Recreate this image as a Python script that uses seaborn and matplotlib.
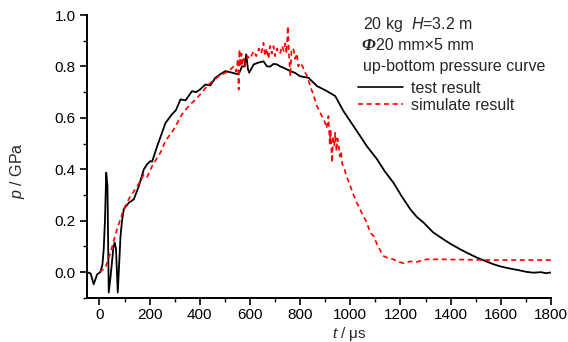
import matplotlib
matplotlib.use("Agg")
import matplotlib.pyplot as plt
import seaborn as sns
import pandas as pd
from matplotlib.ticker import MultipleLocator
from matplotlib.lines import Line2D

# ---- data ----
t_test = [-50, -35, -23, -9, 4, 12, 17, 22, 27, 32, 37, 44, 50, 56, 61, 66, 73, 78, 84, 90,
          97, 117, 137, 157, 177, 190, 203, 210, 230, 245, 263, 289, 305, 323, 343, 369, 385,
          402, 422, 442, 462, 482, 502, 528, 555, 568, 578, 585, 592, 597, 615, 634, 654, 668,
          681, 694, 708, 721, 734, 761, 780, 800, 834, 850, 867, 907, 940, 973, 1013, 1039,
          1066, 1106, 1139, 1172, 1205, 1239, 1265, 1292, 1330, 1371, 1400, 1438, 1470, 1504,
          1537, 1570, 1600, 1637, 1670, 1703, 1730, 1760, 1780, 1800]
p_test = [0, -0.005, -0.047, -0.008, 0, 0.03, 0.09, 0.2, 0.387, 0.335, -0.079, -0.02, 0.04,
          0.10, 0.115, 0.09, -0.079, 0.02, 0.14, 0.2, 0.245, 0.27, 0.283, 0.335, 0.40, 0.42,
          0.432, 0.43, 0.49, 0.53, 0.58, 0.614, 0.63, 0.672, 0.668, 0.704, 0.70, 0.711, 0.73,
          0.726, 0.756, 0.77, 0.782, 0.776, 0.769, 0.80, 0.80, 0.847, 0.79, 0.776, 0.808,
          0.815, 0.82, 0.80, 0.80, 0.81, 0.808, 0.80, 0.795, 0.782, 0.775, 0.762, 0.756, 0.74,
          0.724, 0.704, 0.685, 0.626, 0.568, 0.53, 0.49, 0.44, 0.39, 0.348, 0.295, 0.245,
          0.215, 0.193, 0.155, 0.128, 0.11, 0.089, 0.073, 0.057, 0.044, 0.031, 0.022, 0.014,
          0.008, 0.001, -0.002, 0.0, -0.004, -0.001]

t_sim = [0, 24, 44, 70, 97, 123, 143, 160, 177, 190, 210, 243, 263, 296, 329, 356, 396, 435,
         475, 515, 535, 545, 552, 555, 558, 562, 566, 570, 575, 580, 590, 600, 615, 625, 635,
         645, 654, 660, 667, 674, 680, 687, 694, 700, 708, 714, 721, 728, 735, 741, 746, 751,
         756, 761, 766, 774, 780, 787, 793, 800, 810, 820, 830, 840, 853, 867, 880, 893, 900,
         906, 913, 918, 922, 927, 932, 936, 940, 945, 949, 953, 958, 963, 968, 973, 986, 1000,
         1013, 1026, 1046, 1066, 1079, 1093, 1106, 1117, 1125, 1132, 1150, 1172, 1192, 1212,
         1240, 1265, 1285, 1305, 1340, 1371, 1400, 1438, 1500, 1570, 1650, 1720, 1800]
p_sim = [0, 0.018, 0.076, 0.167, 0.245, 0.296, 0.322, 0.35, 0.38, 0.37, 0.413, 0.465, 0.51,
         0.555, 0.614, 0.646, 0.685, 0.73, 0.762, 0.782, 0.80, 0.78, 0.83, 0.71, 0.866, 0.80,
         0.85, 0.81, 0.83, 0.80, 0.84, 0.83, 0.86, 0.84, 0.87, 0.85, 0.892, 0.84, 0.87, 0.83,
         0.88, 0.85, 0.879, 0.84, 0.87, 0.85, 0.853, 0.88, 0.86, 0.89, 0.85, 0.957, 0.84,
         0.762, 0.87, 0.866, 0.83, 0.85, 0.80, 0.814, 0.80, 0.776, 0.76, 0.724, 0.69, 0.646,
         0.62, 0.594, 0.58, 0.56, 0.607, 0.50, 0.55, 0.426, 0.53, 0.49, 0.542, 0.47, 0.52,
         0.50, 0.45, 0.47, 0.42, 0.413, 0.37, 0.335, 0.30, 0.27, 0.23, 0.193, 0.154, 0.141,
         0.11, 0.089, 0.075, 0.063, 0.055, 0.05, 0.04, 0.035, 0.042, 0.04, 0.045, 0.05, 0.05,
         0.05, 0.049, 0.049, 0.048, 0.047, 0.047, 0.047, 0.047]

x_ticks = [0, 200, 400, 600, 800, 1000, 1200, 1400, 1600, 1800]
y_ticks = [0.0, 0.2, 0.4, 0.6, 0.8, 1.0]
series_names = ["test result", "simulate result"]
header_lines = ["20 kg  $H$=3.2 m", "20 mm×5 mm", "up-bottom pressure curve"]

# ---- style ----
sns.set_style("ticks")
FAM = ["Liberation Sans", "DejaVu Sans"]
plt.rcParams["font.family"] = FAM
plt.rcParams["mathtext.fontset"] = "custom"
plt.rcParams["mathtext.rm"] = "Liberation Sans"
plt.rcParams["mathtext.it"] = "Liberation Sans:italic"
FS = 11.5
TFS = 11

fig = plt.figure(figsize=(5.68, 3.42), dpi=100)
ax = fig.add_axes([0.153, 0.129, 0.817, 0.827])

df_test = pd.DataFrame({"t": t_test, "p": p_test})
df_sim = pd.DataFrame({"t": t_sim, "p": p_sim})
sns.lineplot(data=df_test, x="t", y="p", ax=ax, color="black", lw=1.3,
             sort=False, estimator=None)
sns.lineplot(data=df_sim, x="t", y="p", ax=ax, color="#ff0000", lw=1.2,
             sort=False, estimator=None, linestyle=(0, (3, 2.2)))

ax.set_xlim(-50, 1800)
ax.set_ylim(-0.1, 1.0)
ax.set_xticks(x_ticks)
ax.set_yticks(y_ticks)
ax.set_xticklabels([str(v) for v in x_ticks])
ax.set_yticklabels([f"{v:.1f}" for v in y_ticks])
ax.xaxis.set_minor_locator(MultipleLocator(100))
ax.yaxis.set_minor_locator(MultipleLocator(0.1))
ax.tick_params(which="major", direction="out", length=5, width=1.2, labelsize=TFS, pad=3,
               color="black", labelcolor="black")
ax.tick_params(axis="x", which="major", pad=2)
ax.tick_params(which="minor", direction="out", length=3, width=1.0, color="black")
for s in ["top", "right"]:
    ax.spines[s].set_visible(False)
for s in ["left", "bottom"]:
    ax.spines[s].set_linewidth(1.4)
    ax.spines[s].set_color("black")

ax.set_xlabel("$t$ / μs", fontsize=11)
ax.set_ylabel("$p$ / GPa", fontsize=FS)
ax.xaxis.set_label_coords(0.565, -0.095)
ax.yaxis.set_label_coords(-0.13, 0.45)

# ---- header text ----
fig.text(363 / 568, 1 - 25 / 342, header_lines[0], fontsize=FS, va="center", ha="left")
fig.text(361 / 568, 1 - 46 / 342, "Φ", fontsize=FS + 1, va="center", ha="left",
         family=["Liberation Serif", "DejaVu Serif"], style="italic", weight="bold")
fig.text(376 / 568, 1 - 46 / 342, header_lines[1], fontsize=FS, va="center", ha="left")
fig.text(363 / 568, 1 - 67 / 342, header_lines[2], fontsize=FS, va="center", ha="left")

handles = [Line2D([], [], color="black", lw=1.2),
           Line2D([], [], color="#ff0000", lw=1.2, linestyle=(0, (3, 2.2)))]
leg = ax.legend(handles, series_names, loc="upper left",
                bbox_to_anchor=(358 / 568, 1 - 81 / 342), bbox_transform=fig.transFigure,
                frameon=False, fontsize=FS, handlelength=2.8, handletextpad=0.5,
                labelspacing=0.1, borderpad=0, borderaxespad=0)

fig.savefig("out.png", dpi=100)
